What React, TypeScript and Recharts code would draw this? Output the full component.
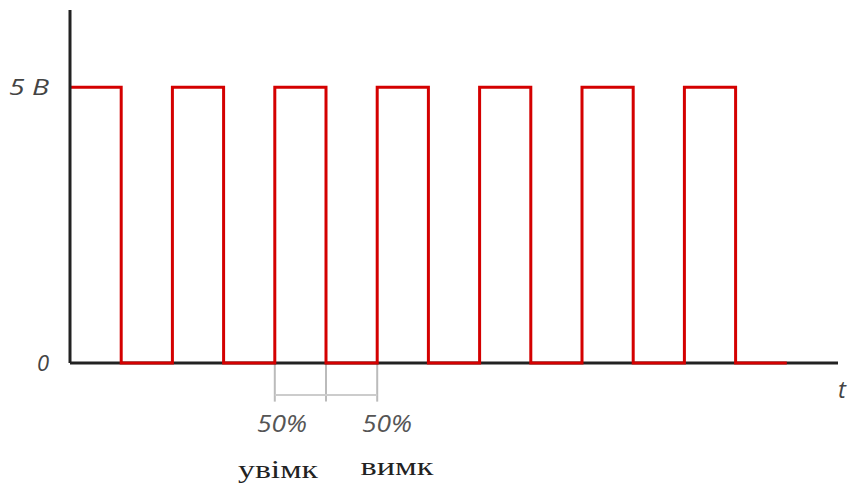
import React from "react";
import { LineChart, Line, XAxis, YAxis, ReferenceLine } from "recharts";

const times = [0, 1, 2, 3, 4, 5, 6, 7, 8, 9, 10, 11, 12, 13, 14];
const levels = [5, 0, 5, 0, 5, 0, 5, 0, 5, 0, 5, 0, 5, 0, 0];
const axisTimes = [0, 15];
const yTicks = [0, 5];
const yTickLabels: Record<number, string> = { 0: "0", 5: "5 B" };
const dimMarks = [4, 5, 6];
const pctLabels = ["50%", "50%"];
const stateLabels = ["увімк", "вимк"];

const data = [
  ...times.map((t, i) => ({ t, v: levels[i], a: axisTimes.includes(t) ? 0 : undefined })),
  ...axisTimes.filter((t) => !times.includes(t)).map((t) => ({ t, v: undefined, a: 0 })),
];

const W = 848;
const H = 489;
const LEFT = 70;
const RIGHT = 838;
const TOP = 10;
const BOTTOM = 363;
const XMAX = 15;
const YMAX = 6.4;

const YTick = (props: any) => {
  const { x, y, payload } = props;
  const label = yTickLabels[payload.value];
  return (
    <text
      x={x}
      y={y}
      dy={8}
      textAnchor="end"
      fill="#444"
      fontStyle="italic"
      fontFamily="'Open Sans', 'Liberation Sans', sans-serif"
      fontSize={22}
      textLength={label.length > 1 ? 40 : undefined}
      lengthAdjust="spacingAndGlyphs"
    >
      {label}
    </text>
  );
};

export default function App() {
  return (
    <div style={{ position: "absolute", left: 0, top: 0, width: W, height: H, background: "#fff" }}>
      <LineChart
        width={W}
        height={H}
        data={data}
        margin={{ top: TOP, right: W - RIGHT, left: 0, bottom: H - BOTTOM - 1 }}
      >
        <XAxis
          dataKey="t"
          type="number"
          domain={[0, XMAX]}
          tick={false}
          tickLine={false}
          height={1}
          axisLine={false}
        />
        <YAxis
          type="number"
          domain={[0, YMAX]}
          ticks={yTicks}
          tickLine={false}
          tickMargin={15}
          width={LEFT}
          tick={<YTick />}
          axisLine={{ stroke: "#222", strokeWidth: 3 }}
        />
        {dimMarks.map((m) => (
          <ReferenceLine
            key={m}
            segment={[
              { x: m, y: 0 },
              { x: m, y: -0.7 },
            ]}
            ifOverflow="visible"
            stroke="#bbb"
            strokeWidth={2}
          />
        ))}
        <ReferenceLine
          segment={[
            { x: dimMarks[0], y: -0.58 },
            { x: dimMarks[dimMarks.length - 1], y: -0.58 },
          ]}
          ifOverflow="visible"
          stroke="#ccc"
          strokeWidth={2}
        />
        <Line
          dataKey="a"
          type="linear"
          stroke="#222"
          strokeWidth={3}
          dot={false}
          connectNulls
          isAnimationActive={false}
        />
        <Line
          dataKey="v"
          type="stepAfter"
          stroke="#d40000"
          strokeWidth={3}
          dot={false}
          isAnimationActive={false}
        />
      </LineChart>
      <svg
        width={W}
        height={H}
        style={{ position: "absolute", left: 0, top: 0, pointerEvents: "none" }}
      >
        <text
          x={282}
          y={432}
          textAnchor="middle"
          fill="#555"
          fontStyle="italic"
          fontFamily="'Open Sans', 'Liberation Sans', sans-serif"
          fontSize={23}
          textLength={50}
          lengthAdjust="spacingAndGlyphs"
        >
          {pctLabels[0]}
        </text>
        <text
          x={387}
          y={432}
          textAnchor="middle"
          fill="#555"
          fontStyle="italic"
          fontFamily="'Open Sans', 'Liberation Sans', sans-serif"
          fontSize={23}
          textLength={50}
          lengthAdjust="spacingAndGlyphs"
        >
          {pctLabels[1]}
        </text>
        <text
          x={278}
          y={478}
          textAnchor="middle"
          fill="#222"
          fontFamily="'Liberation Serif', 'DejaVu Serif', serif"
          fontSize={26}
          textLength={80}
          lengthAdjust="spacingAndGlyphs"
        >
          {stateLabels[0]}
        </text>
        <text
          x={397}
          y={475}
          textAnchor="middle"
          fill="#222"
          fontFamily="'Liberation Serif', 'DejaVu Serif', serif"
          fontSize={26}
          textLength={73}
          lengthAdjust="spacingAndGlyphs"
        >
          {stateLabels[1]}
        </text>
        <text
          x={838}
          y={398}
          fill="#444"
          fontStyle="italic"
          fontFamily="'Open Sans', 'Liberation Sans', sans-serif"
          fontSize={24}
        >
          t
        </text>
      </svg>
    </div>
  );
}
